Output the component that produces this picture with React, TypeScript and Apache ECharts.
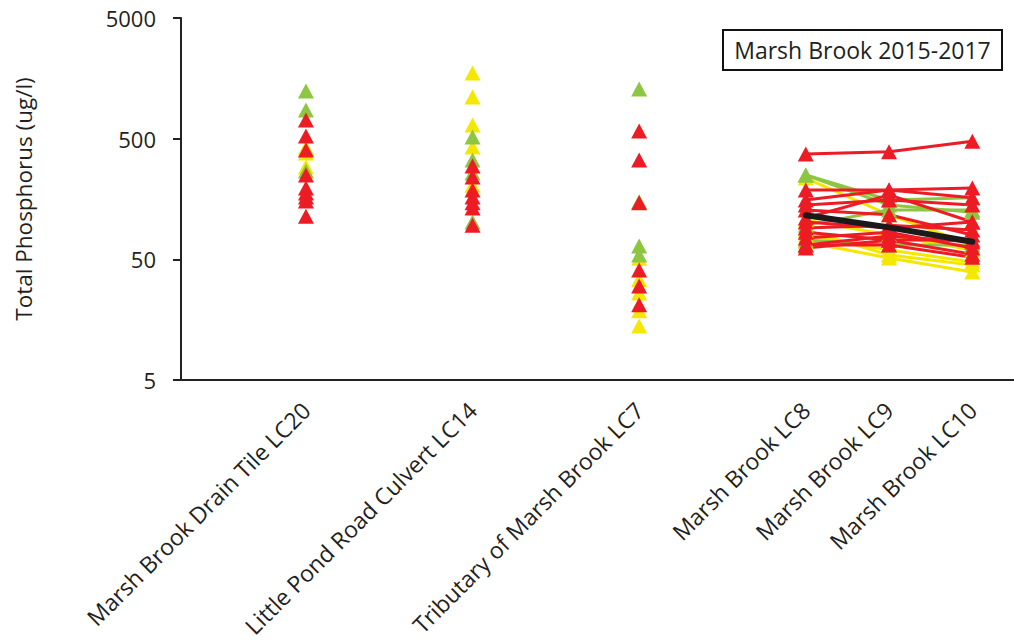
import React, { useEffect, useRef } from "react";
import * as echarts from "echarts";

// Categories (empty slots give the wider spacing of the first three sites)
const categories = [
  "",
  "Marsh Brook Drain Tile LC20",
  "",
  "Little Pond Road Culvert LC14",
  "",
  "Tributary of Marsh Brook LC7",
  "",
  "Marsh Brook LC8",
  "Marsh Brook LC9",
  "Marsh Brook LC10",
];

const yTickLabels = ["5", "50", "500", "5000"];
const titleText = "Marsh Brook 2015-2017";
const yAxisName = "Total Phosphorus (ug/l)";

// Single-site samples (ug/l)
const lc20Yellow = [420, 380, 291];
const lc20Green = [1242, 864, 270];
const lc20Red = [714, 526, 403, 250, 195, 177, 164, 152, 114];

const lc14Yellow = [1750, 1107, 649, 427, 206];
const lc14Green = [516, 333, 260, 102];
const lc14Red = [297, 241, 188, 164, 147, 133, 96];

const lc7Yellow = [51, 34, 26.3, 18.7, 14.0];
const lc7Green = [1290, 150, 64.5, 54.3];
const lc7Red = [579, 333, 147, 40.8, 30, 21];

// Paired samples along Marsh Brook (LC8 -> LC9 -> LC10)
const trendLC8 = [373, 250, 250, 236, 188, 155, 141, 110, 128, 96, 106, 91, 84, 79.5, 75, 72.3, 65.7, 69.6, 65.7, 87.5, 102, 62];
const trendLC9 = [389, 141, 155, 117, 188, 188, 155, 171, 117, 128, 79.5, 96, 72.3, 59.7, 84, 65.7, 65.7, 51.3, 78, 54.3, 91, 72];
const trendLC10 = [475, 123, 162, 65.7, 195, 162, 141, 102, 79.5, 128, 59.7, 87.5, 72.3, 47.5, 62, 65.7, 52, 39.3, 69.6, 44.9, 102, 55];
const trendColors = ["red", "green", "green", "yellow", "red", "red", "red", "red", "red", "green", "yellow", "red", "red", "yellow", "red", "green", "red", "yellow", "red", "yellow", "red", "red"];

const meanValues = [116, 92, 70];

const COLORS: Record<string, string> = {
  red: "#ED1C24",
  green: "#8DC641",
  yellow: "#F4E700",
};
const TEXT = "#231F20";
const FONT = '"Open Sans", sans-serif';

export default function App() {
  const ref = useRef<HTMLDivElement>(null);

  useEffect(() => {
    if (!ref.current) return;
    const chart = echarts.init(ref.current, undefined, { renderer: "svg" });

    const tri = { symbol: "triangle", symbolSize: [16, 15] };
    const scatter = (idx: number, vals: number[], color: string) => ({
      type: "scatter",
      xAxisIndex: 0,
      yAxisIndex: 0,
      ...tri,
      itemStyle: { color: COLORS[color], opacity: 1 },
      data: vals.map((v) => [idx, v]),
      z: 3,
    });

    const order = ["yellow", "green", "red"];
    const lineSeries: any[] = [];
    order.forEach((c) => {
      trendColors.forEach((tc, i) => {
        if (tc !== c) return;
        lineSeries.push({
          type: "line",
          xAxisIndex: 0,
          yAxisIndex: 0,
          ...tri,
          showSymbol: true,
          itemStyle: { color: COLORS[c], opacity: 1 },
          lineStyle: { color: COLORS[c], width: 3 },
          data: [
            [7, trendLC8[i]],
            [8, trendLC9[i]],
            [9, trendLC10[i]],
          ],
          z: 3,
        });
      });
    });

    const option: any = {
      animation: false,
      grid: {
        left: 181,
        right: 0,
        top: 18,
        bottom: 264,
        containLabel: false,
        outerBoundsMode: "none",
      },
      xAxis: [
        {
          type: "category",
          data: categories,
          boundaryGap: true,
          axisLine: { lineStyle: { color: "#222", width: 2 } },
          axisTick: { show: false },
          axisLabel: {
            interval: 0,
            rotate: 45,
            margin: 26,
            fontSize: 23,
            fontFamily: FONT,
            color: TEXT,
          },
          splitLine: { show: false },
        },
      ],
      yAxis: [
        {
          type: "log",
          logBase: 10,
          min: 5,
          max: 5000,
          position: "left",
          axisLine: { show: true, lineStyle: { color: "#222", width: 2 } },
          axisTick: { show: false },
          axisLabel: { show: false },
          splitLine: { show: false },
          minorTick: { show: false },
          name: yAxisName,
          nameLocation: "middle",
          nameGap: 146,
          nameTextStyle: { fontSize: 22.5, fontFamily: FONT, color: TEXT },
        },
        {
          type: "value",
          min: 0,
          max: 3,
          interval: 1,
          position: "left",
          axisLine: { show: false },
          axisTick: {
            show: true,
            inside: false,
            length: 8,
            lineStyle: { color: "#222", width: 2 },
          },
          axisLabel: {
            margin: 25,
            fontSize: 22,
            fontFamily: FONT,
            color: TEXT,
            formatter: (v: number) => yTickLabels[Math.round(v)] ?? "",
          },
          splitLine: { show: false },
        },
      ],
      series: [
        scatter(1, lc20Yellow, "yellow"),
        scatter(1, lc20Green, "green"),
        scatter(1, lc20Red, "red"),
        scatter(3, lc14Yellow, "yellow"),
        scatter(3, lc14Green, "green"),
        scatter(3, lc14Red, "red"),
        scatter(5, lc7Yellow, "yellow"),
        scatter(5, lc7Green, "green"),
        scatter(5, lc7Red, "red"),
        ...lineSeries,
        {
          type: "line",
          xAxisIndex: 0,
          yAxisIndex: 0,
          showSymbol: false,
          symbol: "none",
          lineStyle: { color: "#1a1a1a", width: 6, cap: "round" },
          data: meanValues.map((v, i) => [7 + i, v]),
          z: 5,
        },
      ],
      graphic: [
        {
          type: "rect",
          x: 0,
          y: 0,
          shape: { x: 723, y: 30, width: 279, height: 40 },
          style: { fill: "#fff", stroke: "#111", lineWidth: 2 },
          z: 10,
        },
        {
          type: "text",
          x: 862.5,
          y: 50,
          style: {
            text: titleText,
            fontSize: 23,
            fontFamily: FONT,
            fill: TEXT,
            align: "center",
            verticalAlign: "middle",
          },
          z: 11,
        },
      ],
    };

    chart.setOption(option);
    return () => chart.dispose();
  }, []);

  return (
    <div
      ref={ref}
      style={{ position: "fixed", left: 0, top: 0, width: 1014, height: 644, background: "#fff" }}
    />
  );
}
